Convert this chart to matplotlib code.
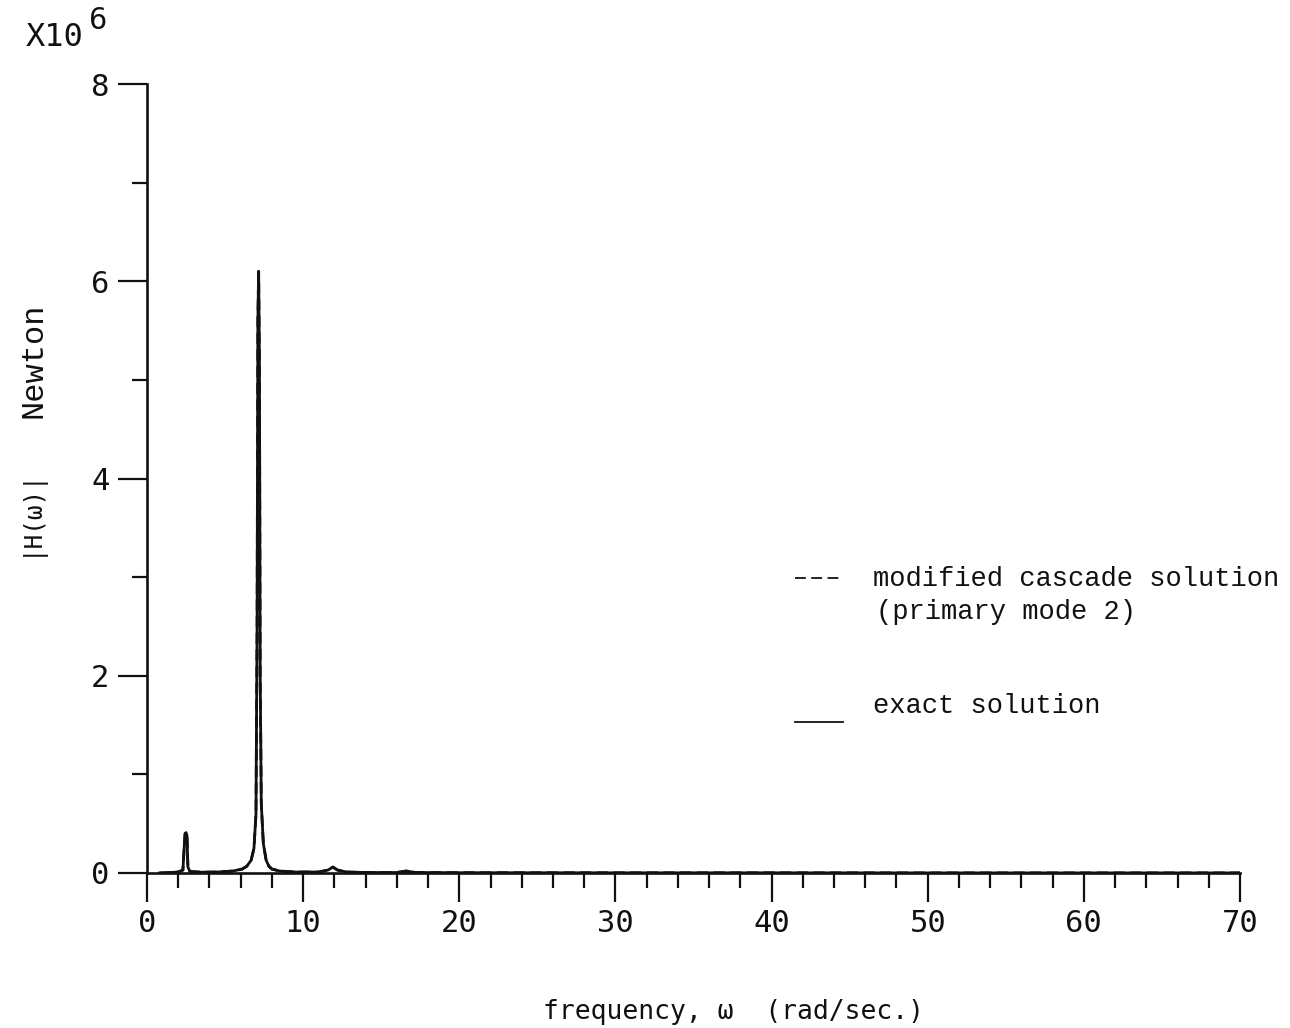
import matplotlib
matplotlib.use("Agg")
import matplotlib.pyplot as plt
from matplotlib.ticker import MultipleLocator, FuncFormatter

# Frequency response |H(w)| (units of 1e6 Newton) versus frequency (rad/sec)
omega = [0.8, 1.5, 2.0, 2.3, 2.38, 2.44, 2.5, 2.56, 2.62, 2.75, 3.5, 4.5,
         5.5, 6.1, 6.4, 6.67, 6.85, 6.98, 7.05, 7.1, 7.15, 7.2, 7.25, 7.32,
         7.45, 7.63, 7.8, 8.0, 8.5, 9.5, 11.0, 11.6, 11.9, 12.2, 12.8, 14.0,
         16.0, 16.6, 17.2, 20.0, 30.0, 40.0, 50.0, 60.0, 70.0]
exact_H = [0.0, 0.005, 0.01, 0.03, 0.25, 0.40, 0.41, 0.38, 0.06, 0.015, 0.008, 0.01,
           0.02, 0.04, 0.07, 0.13, 0.25, 0.6, 2.5, 5.6, 6.1, 5.2, 2.0, 0.7,
           0.3, 0.13, 0.07, 0.04, 0.02, 0.01, 0.01, 0.03, 0.06, 0.03, 0.01, 0.005,
           0.005, 0.02, 0.005, 0.003, 0.002, 0.002, 0.001, 0.001, 0.001]
cascade_H = [0.0, 0.005, 0.01, 0.03, 0.25, 0.40, 0.41, 0.38, 0.06, 0.015, 0.008, 0.01,
             0.02, 0.04, 0.07, 0.13, 0.25, 0.6, 2.5, 5.6, 6.1, 5.2, 2.0, 0.7,
             0.3, 0.13, 0.07, 0.04, 0.02, 0.01, 0.01, 0.03, 0.06, 0.03, 0.01, 0.005,
             0.005, 0.02, 0.005, 0.003, 0.002, 0.002, 0.001, 0.001, 0.001]

x_range = (0, 70)
y_range = (0, 8)

W, H = 1290, 1028
DPI = 100
fig = plt.figure(figsize=(W / DPI, H / DPI), dpi=DPI)
fig.patch.set_facecolor("white")


def fx(px):
    return px / W


def fy(py):
    return 1 - py / H


left, right, top, bottom = 147, 1240, 84, 873
ax = fig.add_axes([fx(left), fy(bottom), fx(right) - fx(left), fy(top) - fy(bottom)])

ink = "#111111"
ax.plot(omega, exact_H, color=ink, lw=2.0, solid_joinstyle="round")
ax.plot(omega, cascade_H, color=ink, lw=2.0, ls=(0, (4, 2)))

ax.set_xlim(*x_range)
ax.set_ylim(*y_range)

for s in ("top", "right"):
    ax.spines[s].set_visible(False)
for s in ("left", "bottom"):
    ax.spines[s].set_linewidth(1.9)
    ax.spines[s].set_color(ink)

ax.xaxis.set_major_locator(MultipleLocator(10))
ax.xaxis.set_minor_locator(MultipleLocator(2))
ax.yaxis.set_major_locator(MultipleLocator(2))
ax.yaxis.set_minor_locator(MultipleLocator(1))
ax.xaxis.set_major_formatter(FuncFormatter(lambda v, p: f"{v:.0f}"))
ax.yaxis.set_major_formatter(FuncFormatter(lambda v, p: f"{v:.0f}"))

ax.tick_params(which="major", direction="out", length=21, width=1.6, color=ink,
               labelsize=22, labelcolor=ink)
ax.tick_params(which="minor", direction="out", length=11, width=1.6, color=ink)
ax.tick_params(axis="x", which="major", pad=5)
ax.tick_params(axis="y", which="major", pad=6)
for lab in ax.get_xticklabels() + ax.get_yticklabels():
    lab.set_family("DejaVu Sans Mono")

mono = "DejaVu Sans Mono"
typew = "Liberation Mono"

# Scale factor in the upper-left corner
fig.text(fx(26), fy(46), "X10", family=mono, fontsize=23, color=ink, ha="left", va="baseline")
fig.text(fx(89), fy(29), "6", family=mono, fontsize=22, color=ink, ha="left", va="baseline")

# Y axis label
fig.text(fx(30), fy(512), "|H(ω)|", family=mono, fontsize=17.5, color=ink,
         rotation=90, ha="center", va="center")
fig.text(fx(34), fy(360), "Newton", family=typew, fontsize=23, color=ink,
         rotation=90, ha="center", va="center")

# X axis label
fig.text(fx(733), fy(1012), "frequency, ω  (rad/sec.)", family=mono, fontsize=19,
         color=ink, ha="center", va="center")

# Legend entries
fig.text(fx(873), fy(579), "modified cascade solution", family=typew, fontsize=19.5,
         color=ink, ha="left", va="center")
fig.text(fx(876), fy(612), "(primary mode 2)", family=typew, fontsize=19.5,
         color=ink, ha="left", va="center")
fig.text(fx(873), fy(706), "exact solution", family=typew, fontsize=19.5,
         color=ink, ha="left", va="center")
fig.add_artist(plt.Line2D([fx(795), fx(841)], [fy(578), fy(578)], color=ink, lw=1.3,
                          ls=(0, (6, 3))))
fig.add_artist(plt.Line2D([fx(795), fx(843)], [fy(722), fy(722)], color=ink, lw=1.3))

fig.savefig("out.png", dpi=DPI, facecolor="white")
